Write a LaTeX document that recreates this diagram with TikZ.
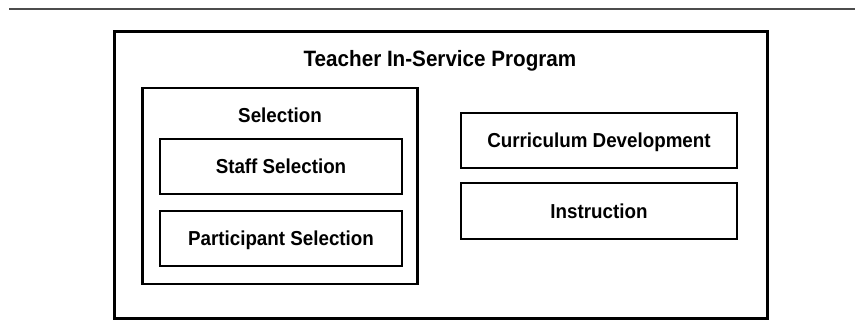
\documentclass[tikz,border=0pt]{standalone}
\usepackage{fontspec}
\setmainfont{Liberation Sans}[FakeStretch=0.93]

\begin{document}
\begin{tikzpicture}[x=1pt, y=-1pt,
  box/.style={draw, line width=2.1pt, inner sep=0pt, text height=14.4pt, text depth=0pt, font=\bfseries\fontsize{20.2}{24}\selectfont},
  heading/.style={inner sep=0pt, text height=14.4pt, text depth=0pt, font=\bfseries\fontsize{20.2}{24}\selectfont}]
  \useasboundingbox (0,0) rectangle (855,336);

  % Rule above the figure
  \coordinate (ruleL) at (9,9);
  \coordinate (ruleR) at (855,9);
  \draw[line width=1.6pt, black!70] (ruleL) -- (ruleR);

  % Program frame
  \node[box, minimum width=653pt, minimum height=287pt] (program) at (441,175) {};
  \node[heading, text height=16pt, font=\bfseries\fontsize{22.2}{26}\selectfont] (title) at (440,59) {Teacher In-Service Program};

  % Selection group
  \node[box, minimum width=275pt, minimum height=196pt] (selection) at (280,186) {};
  \node[heading] (seltitle) at (280,115) {Selection};
  \node[box, minimum width=242pt, minimum height=55pt] (staff) at (281,166.5) {Staff Selection};
  \node[box, minimum width=242pt, minimum height=55pt] (participant) at (281,238.5) {Participant Selection};

  % Right column
  \node[box, minimum width=276pt, minimum height=55pt] (curriculum) at (599,140.5) {Curriculum Development};
  \node[box, minimum width=276pt, minimum height=56pt] (instruction) at (599,211) {Instruction};
\end{tikzpicture}
\end{document}
